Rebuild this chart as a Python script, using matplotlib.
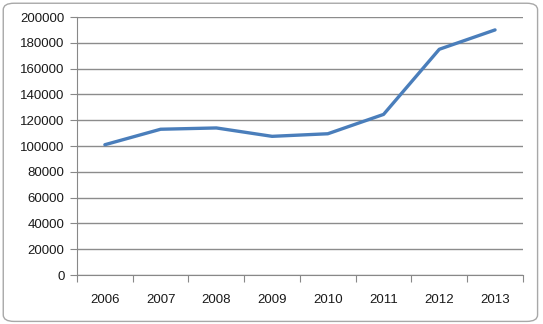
import matplotlib.pyplot as plt
from matplotlib.patches import FancyBboxPatch

years = ['2006', '2007', '2008', '2009', '2010', '2011', '2012', '2013']
values = [101000, 113000, 114000, 107500, 109500, 124500, 175000, 190000]
yticks = [0, 20000, 40000, 60000, 80000, 100000, 120000, 140000, 160000, 180000, 200000]

plt.rcParams['font.family'] = ['Liberation Sans', 'DejaVu Sans']

fig = plt.figure(figsize=(5.43, 3.24), dpi=100)
# rounded outer frame like the chart area border
frame = FancyBboxPatch((0.006, 0.008), 0.984, 0.982, boxstyle='round,pad=0,rounding_size=0.02',
                       transform=fig.transFigure, facecolor='white', edgecolor='#a8a8a8',
                       linewidth=1.0, zorder=-10)
fig.patches.append(frame)

ax = fig.add_axes([0.1418, 0.1512, 0.8212, 0.7963])
ax.set_facecolor('none')
x = [i + 0.5 for i in range(len(years))]
ax.plot(x, values, color='#4a7ebb', linewidth=2.4, solid_capstyle='round', zorder=3)

ax.set_xlim(0, len(years))
ax.set_ylim(0, 200000)
ax.set_yticks(yticks)
ax.set_yticklabels([str(v) for v in yticks], fontsize=9.5, color='#1a1a1a')
ax.set_xticks(range(len(years) + 1))
ax.set_xticklabels([])
ax.set_xticks(x, minor=True)
ax.set_xticklabels(years, minor=True, fontsize=9.5, color='#1a1a1a')
ax.tick_params(axis='x', which='minor', length=0, pad=14)
ax.tick_params(axis='x', which='major', length=5, color='#888888', direction='out')
ax.tick_params(axis='y', length=5, color='#888888', direction='out', pad=4)
ax.grid(axis='y', color='#8c8c8c', linewidth=1.0)
ax.set_axisbelow(True)
for s in ['top', 'right']:
    ax.spines[s].set_visible(False)
ax.spines['left'].set_color('#888888')
ax.spines['bottom'].set_color('#888888')

plt.savefig('out.png', dpi=100)
